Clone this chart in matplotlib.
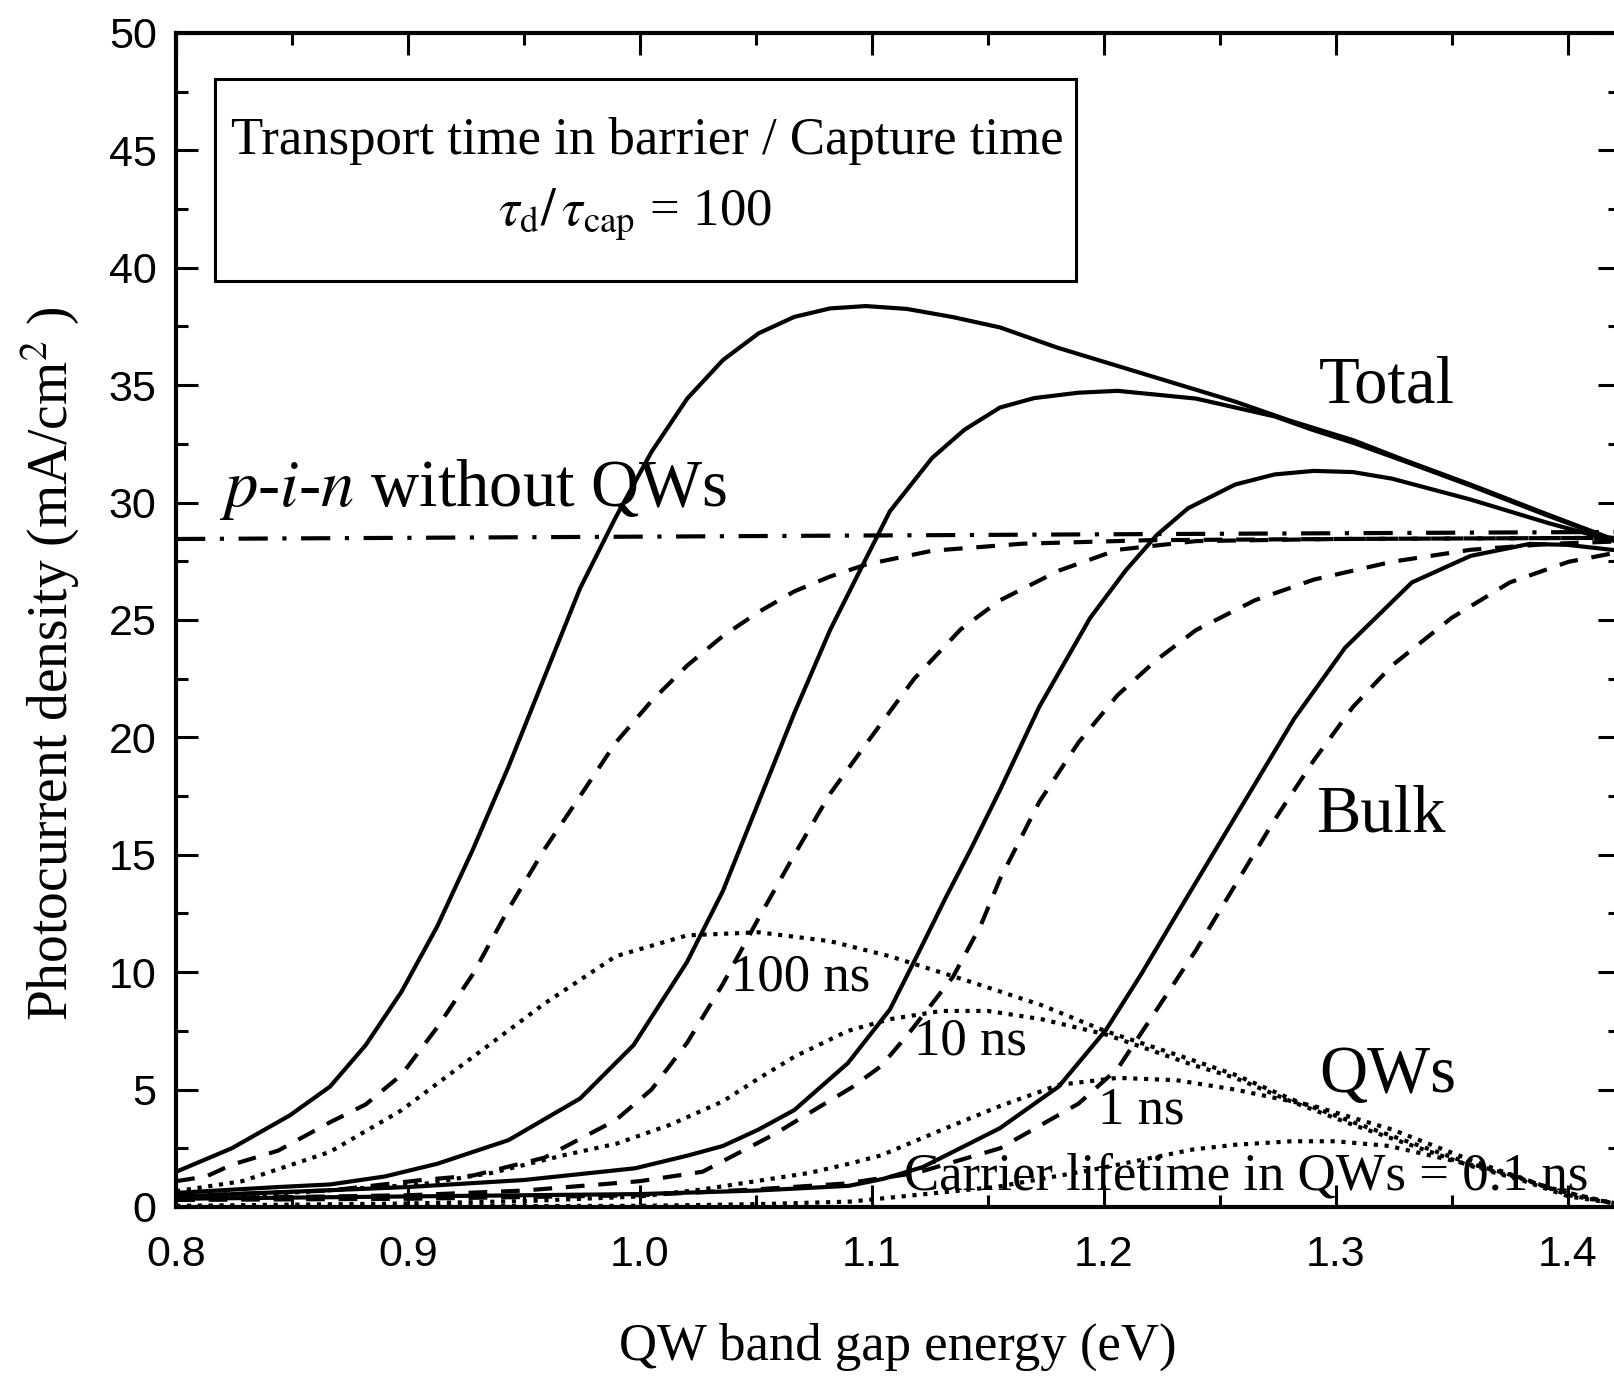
import matplotlib
matplotlib.use('Agg')
import matplotlib.pyplot as plt
from matplotlib.patches import Rectangle
from matplotlib.ticker import MultipleLocator, FormatStrFormatter

plt.rcParams['font.family'] = 'Liberation Sans'
plt.rcParams['mathtext.fontset'] = 'stix'
serif = 'Liberation Serif'

#%% data (QW band gap in eV, photocurrent in mA/cm2)
# Total photocurrent, one curve per carrier lifetime in QWs
tot100_x = [0.800, 0.824, 0.849, 0.8664, 0.8818, 0.8972, 0.9126, 0.928, 0.9434, 0.9588, 0.9742,
            0.9896, 1.005, 1.0204, 1.0358, 1.0512, 1.0666, 1.082, 1.0974, 1.115, 1.135, 1.1553,
            1.180, 1.206, 1.230, 1.2567, 1.280, 1.3075, 1.330, 1.3582, 1.390, 1.4226]
tot100_y = [1.5, 2.5, 3.9, 5.13, 6.9, 9.17, 11.95, 15.23, 18.77, 22.56, 26.35,
            29.38, 32.16, 34.43, 36.07, 37.21, 37.91, 38.27, 38.37, 38.25, 37.9, 37.46,
            36.6, 35.82, 35.1, 34.3, 33.5, 32.66, 31.8, 30.77, 29.55, 28.33]

tot10_x = [0.800, 0.844, 0.8664, 0.890, 0.9126, 0.9434, 0.9742, 0.9973, 1.0203, 1.0358, 1.0512,
           1.0666, 1.082, 1.0974, 1.1078, 1.126, 1.1399, 1.1553, 1.170, 1.1891, 1.206, 1.2398,
           1.2737, 1.290, 1.3075, 1.330, 1.3582, 1.390, 1.4226]
tot10_y = [0.6, 0.85, 0.96, 1.3, 1.84, 2.85, 4.62, 6.9, 10.43, 13.46, 17.25,
           21.04, 24.57, 27.6, 29.63, 31.9, 33.1, 34.05, 34.45, 34.68, 34.76, 34.43,
           33.67, 33.1, 32.55, 31.75, 30.72, 29.5, 28.3]

tot1_x = [0.800, 0.850, 0.900, 0.950, 0.998, 1.021, 1.0358, 1.0512, 1.0666, 1.0897, 1.1078, 1.120,
          1.132, 1.143, 1.1553, 1.1722, 1.1941, 1.2094, 1.2229, 1.2364, 1.2567, 1.2737, 1.2906,
          1.3075, 1.3243, 1.3582, 1.392, 1.4226]
tot1_y = [0.45, 0.65, 0.85, 1.15, 1.65, 2.2, 2.6, 3.3, 4.13, 6.13, 8.41, 10.8,
          13.2, 15.3, 17.76, 21.3, 25.08, 27.1, 28.62, 29.76, 30.77, 31.2, 31.35,
          31.3, 31.02, 30.13, 29.12, 28.3]

tot01_x = [0.800, 0.900, 1.000, 1.050, 1.090, 1.105, 1.122, 1.1553, 1.1806, 1.2009, 1.2162, 1.2314,
           1.2483, 1.2652, 1.2821, 1.3041, 1.3329, 1.3582, 1.3836, 1.400, 1.4226]
tot01_y = [0.35, 0.45, 0.55, 0.7, 0.9, 1.2, 1.7, 3.36, 5.13, 7.53, 9.92, 12.45,
           15.23, 18.01, 20.79, 23.82, 26.6, 27.73, 28.24, 28.2, 27.95]

# Bulk contribution
blk100_x = [0.800, 0.813, 0.824, 0.844, 0.8664, 0.8818, 0.8972, 0.9126, 0.928, 0.9434, 0.9588,
            0.9742, 0.9896, 1.005, 1.0204, 1.0358, 1.0512, 1.0666, 1.082, 1.0974, 1.126, 1.165,
            1.220, 1.300, 1.4226]
blk100_y = [1.1, 1.3, 1.8, 2.4, 3.61, 4.37, 5.63, 7.65, 9.92, 12.7, 15.23,
            17.5, 19.78, 21.55, 23.06, 24.32, 25.34, 26.22, 26.85, 27.36, 27.95, 28.25,
            28.4, 28.45, 28.5]

blk10_x = [0.800, 0.8664, 0.906, 0.928, 0.9588, 0.9896, 1.005, 1.0204, 1.0358, 1.0512, 1.0666,
           1.082, 1.0974, 1.1078, 1.1183, 1.1383, 1.1553, 1.1806, 1.206, 1.2398, 1.300, 1.4226]
blk10_y = [0.46, 0.7, 1.15, 1.34, 2.1, 3.7, 5.0, 7.0, 9.5, 12.3, 15.0,
           17.6, 19.7, 21.1, 22.5, 24.6, 25.84, 27.1, 27.99, 28.36, 28.45, 28.5]

blk1_x = [0.800, 0.900, 0.950, 1.000, 1.027, 1.058, 1.073, 1.0915, 1.104, 1.116, 1.135, 1.147,
          1.1553, 1.1722, 1.1891, 1.206, 1.2229, 1.2398, 1.2652, 1.2906, 1.3243, 1.3582, 1.392,
          1.4226]
blk1_y = [0.35, 0.5, 0.7, 1.1, 1.5, 3.1, 4.0, 5.1, 6.0, 7.4, 9.8, 12.0,
          13.97, 17.25, 19.78, 21.8, 23.31, 24.57, 25.84, 26.72, 27.48, 27.99, 28.24,
          28.35]

blk01_x = [0.800, 0.900, 1.000, 1.050, 1.0885, 1.1192, 1.1553, 1.1891, 1.206, 1.2229, 1.2398,
           1.2567, 1.2737, 1.2906, 1.3075, 1.3243, 1.350, 1.3751, 1.4005, 1.4226]
blk01_y = [0.3, 0.35, 0.5, 0.75, 1.0, 1.45, 2.5, 4.4, 5.89, 8.41, 10.94,
           13.71, 16.49, 19.02, 21.3, 23.06, 25.09, 26.6, 27.48, 27.9]

# QW contribution
qw100_x = [0.800, 0.8285, 0.8664, 0.8972, 0.928, 0.9588, 0.9896, 1.0204, 1.0512, 1.082, 1.1078,
           1.1423, 1.1731, 1.2005, 1.2385, 1.2567, 1.2808, 1.3075, 1.3582, 1.380, 1.4005, 1.420]
qw100_y = [0.67, 1.1, 2.35, 4.12, 6.39, 8.66, 10.68, 11.57, 11.7, 11.32, 10.68,
           9.6, 8.6, 7.5, 6.25, 5.63, 4.6, 3.61, 1.84, 1.25, 0.5, 0.17]

qw10_x = [0.800, 0.859, 0.9054, 0.936, 0.967, 0.990, 1.013, 1.0358, 1.050, 1.0666, 1.0897, 1.1078,
          1.130, 1.150, 1.1731, 1.2009, 1.2385, 1.2567, 1.2808, 1.3075, 1.3582, 1.380, 1.4005,
          1.4226]
qw10_y = [0.32, 0.67, 0.96, 1.45, 2.2, 2.7, 3.5, 4.5, 5.4, 6.4, 7.5, 8.0,
          8.35, 8.35, 8.0, 7.35, 6.05, 5.5, 4.5, 3.5, 1.75, 1.15, 0.45,
          0.12]

qw1_x = [0.800, 0.900, 0.950, 1.000, 1.027, 1.050, 1.073, 1.0906, 1.104, 1.133, 1.1553, 1.1806,
         1.206, 1.2314, 1.2567, 1.2906, 1.3243, 1.3582, 1.392, 1.420]
qw1_y = [0.05, 0.15, 0.25, 0.45, 0.75, 1.1, 1.45, 1.85, 2.2, 3.4, 4.3, 5.2,
         5.5, 5.4, 5.0, 4.3, 3.3, 2.0, 0.8, 0.15]

qw01_x = [0.800, 1.000, 1.050, 1.091, 1.154, 1.196, 1.2385, 1.2567, 1.281, 1.300, 1.323, 1.3582,
          1.380, 1.400, 1.4226]
qw01_y = [0.01, 0.05, 0.12, 0.23, 0.86, 1.6, 2.45, 2.65, 2.8, 2.8, 2.6, 1.8,
          1.2, 0.6, 0.1]

# reference p-i-n cell without QWs
pin_x = [0.800, 1.000, 1.200, 1.4226]
pin_y = [28.45, 28.55, 28.65, 28.75]

#%% plot
fig = plt.figure(figsize=(16.15, 13.76), dpi=100)
ax = fig.add_axes([0.10904, 0.12282, 0.894, 0.85320])

for x, y in [(tot100_x, tot100_y), (tot10_x, tot10_y), (tot1_x, tot1_y), (tot01_x, tot01_y)]:
    ax.plot(x, y, color='k', lw=3)
for x, y in [(blk100_x, blk100_y), (blk10_x, blk10_y), (blk1_x, blk1_y), (blk01_x, blk01_y)]:
    ax.plot(x, y, color='k', lw=3, dashes=(4.5, 3.3))
for x, y in [(qw100_x, qw100_y), (qw10_x, qw10_y), (qw1_x, qw1_y), (qw01_x, qw01_y)]:
    ax.plot(x, y, color='k', lw=3, dashes=(1, 1.6))
ax.plot(pin_x, pin_y, color='k', lw=3, dashes=(7, 3.5, 1, 3.5))

ax.set_xlim(0.8, 1.4226)
ax.set_ylim(0, 50)
ax.xaxis.set_major_locator(MultipleLocator(0.1))
ax.xaxis.set_minor_locator(MultipleLocator(0.05))
ax.yaxis.set_major_locator(MultipleLocator(5))
ax.yaxis.set_minor_locator(MultipleLocator(2.5))
ax.xaxis.set_major_formatter(FormatStrFormatter('%.1f'))
ax.yaxis.set_major_formatter(FormatStrFormatter('%d'))
ax.tick_params(which='both', direction='in', top=True, right=True, width=2.2, labelsize=31)
ax.tick_params(which='major', length=16)
ax.tick_params(which='minor', length=8.5)
ax.tick_params(axis='x', pad=20)
ax.tick_params(axis='y', pad=14)
for s in ax.spines.values():
    s.set_linewidth(3)

# axis labels
fig.text(0.556, 0.021, 'QW band gap energy (eV)', family=serif, fontsize=38,
         ha='center', va='center')
fig.text(0.0306, 0.5175, r'Photocurrent density (mA/cm$^{2}$ )', family=serif, fontsize=40,
         ha='center', va='center', rotation=90)

# box with the parameters
ax.add_patch(Rectangle((0.8169, 39.45), 1.188 - 0.8169, 48.02 - 39.45,
                       fill=False, ec='k', lw=2.2, zorder=5))
ax.text(1.003, 45.38, 'Transport time in barrier / Capture time', family=serif,
        fontsize=38, ha='center', va='center')
ax.text(0.998, 42.3, r'$\tau_{\mathrm{d}}/\,\tau_{\mathrm{cap}}$ = 100', family=serif,
        fontsize=38, ha='center', va='center')

# curve labels
ax.text(1.322, 34.96, 'Total', family=serif, fontsize=48, ha='center', va='center')
ax.text(1.3196, 16.7, 'Bulk', family=serif, fontsize=48, ha='center', va='center')
ax.text(1.3227, 5.58, 'QWs', family=serif, fontsize=48, ha='center', va='center')
ax.text(0.8187, 30.56, r'$p$-$i$-$n$ without QWs', family=serif, fontsize=48,
        ha='left', va='center')
ax.text(1.0695, 9.76, '100 ns', family=serif, fontsize=38, ha='center', va='center')
ax.text(1.1424, 7.04, '10 ns', family=serif, fontsize=38, ha='center', va='center')
ax.text(1.2161, 4.09, '1 ns', family=serif, fontsize=38, ha='center', va='center')
ax.text(1.2614, 1.32, 'Carrier lifetime in QWs = 0.1 ns', family=serif, fontsize=38,
        ha='center', va='center')

fig.savefig('out.png', dpi=100)
